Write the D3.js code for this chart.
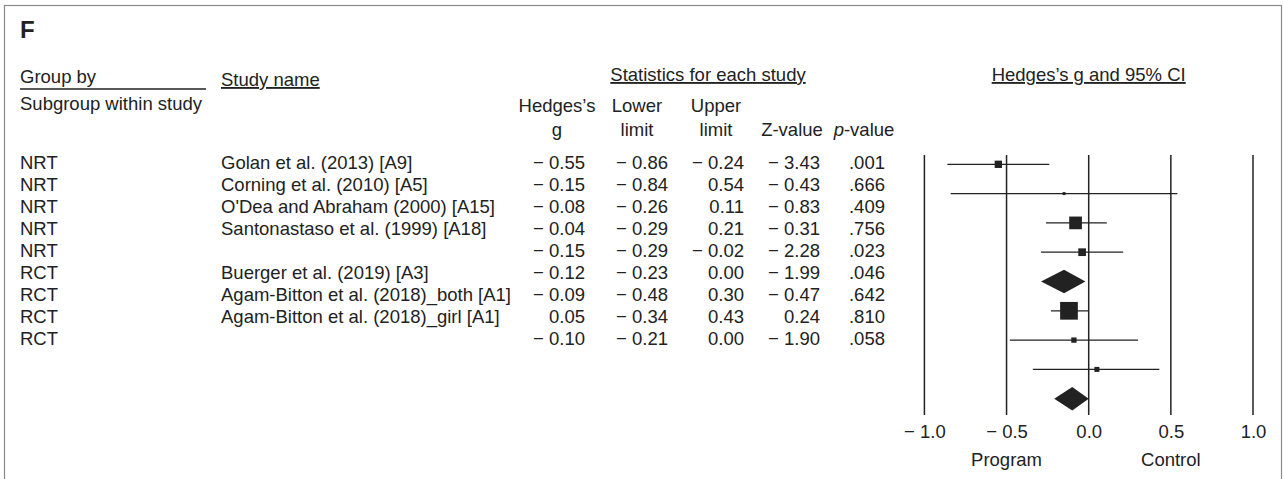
<!DOCTYPE html>
<html>
<head>
<meta charset="utf-8">
<script src="https://cdn.jsdelivr.net/npm/d3@7/dist/d3.min.js"></script>
<style>
  html, body { margin: 0; padding: 0; background: #fff; }
  svg { display: block; }
  text { font-family: "Liberation Sans", Arial, "DejaVu Sans", sans-serif; fill: #222; }
</style>
</head>
<body>
<svg id="chart" width="1283" height="479"></svg>
<script>
// Subgroup meta-analysis: effect sizes (Hedges's g) by design type
const groups   = ["NRT", "NRT", "NRT", "NRT", "NRT", "RCT", "RCT", "RCT", "RCT"];
const studies  = [
  "Golan et al. (2013) [A9]",
  "Corning et al. (2010) [A5]",
  "O'Dea and Abraham (2000) [A15]",
  "Santonastaso et al. (1999) [A18]",
  "",
  "Buerger et al. (2019) [A3]",
  "Agam-Bitton et al. (2018)_both [A1]",
  "Agam-Bitton et al. (2018)_girl [A1]",
  ""
];
const hedgesG  = [-0.55, -0.15, -0.08, -0.04, -0.15, -0.12, -0.09, 0.05, -0.10];
const lowerLim = [-0.86, -0.84, -0.26, -0.29, -0.29, -0.23, -0.48, -0.34, -0.21];
const upperLim = [-0.24,  0.54,  0.11,  0.21, -0.02,  0.00,  0.30, 0.43,  0.00];
const zValues  = [-3.43, -0.43, -0.83, -0.31, -2.28, -1.99, -0.47, 0.24, -1.90];
const pValues  = [".001", ".666", ".409", ".756", ".023", ".046", ".642", ".810", ".058"];
const isPooled = [false, false, false, false, true, false, false, false, true];
// relative study weights within each subgroup (pooled rows have none)
const weights  = [14.5, 2.4, 43.7, 16, null, 85, 7.6, 6.8, null];
const axisTicks = [-1.0, -0.5, 0.0, 0.5, 1.0];
const sideLabels = [{ text: "Program", at: -0.5 }, { text: "Control", at: 0.5 }];

const svg = d3.select("#chart");
const FS = 18.5;
const ink = "#222";

const fmt = v => (v < 0 ? "\u2212 " : "") + Math.abs(v).toFixed(2);
const rows = d3.range(groups.length);

// outer frame
svg.append("rect")
  .attr("x", 4.5).attr("y", 5.5)
  .attr("width", 1277).attr("height", 500)
  .attr("fill", "none").attr("stroke", "#8a8a8a").attr("stroke-width", 1.2);

// panel letter
svg.append("text").attr("x", 20).attr("y", 38)
  .attr("font-size", 24).attr("font-weight", "bold").text("F");

// column headers
const head = svg.append("g").attr("font-size", FS);
head.append("text").attr("x", 20).attr("y", 83).text("Group by");
head.append("line").attr("x1", 20).attr("x2", 206).attr("y1", 89).attr("y2", 89)
  .attr("stroke", ink).attr("stroke-width", 1.3);
head.append("text").attr("x", 20).attr("y", 110).text("Subgroup within study");
head.append("text").attr("x", 221).attr("y", 86).attr("text-decoration", "underline").text("Study name");
head.append("text").attr("x", 708).attr("y", 81).attr("text-anchor", "middle")
  .attr("text-decoration", "underline").text("Statistics for each study");

const colRight = { g: 585, lo: 668, hi: 744, z: 820, p: 885 };
const subHead = [
  { x: 557, l1: "Hedges\u2019s", l2: "g" },
  { x: 637, l1: "Lower", l2: "limit" },
  { x: 716, l1: "Upper", l2: "limit" },
  { x: 792, l1: "", l2: "Z-value" }
];
subHead.forEach(h => {
  if (h.l1) head.append("text").attr("x", h.x).attr("y", 112).attr("text-anchor", "middle").text(h.l1);
  head.append("text").attr("x", h.x).attr("y", 136).attr("text-anchor", "middle").text(h.l2);
});
const pHead = head.append("text").attr("x", 864).attr("y", 136).attr("text-anchor", "middle");
pHead.append("tspan").attr("font-style", "italic").text("p");
pHead.append("tspan").text("-value");

// table rows
const yText = d3.scalePoint().domain(rows).range([168.5, 344.5]);
const table = svg.append("g").attr("font-size", FS);
const rowG = table.selectAll("g.row").data(rows).join("g")
  .attr("class", "row")
  .attr("transform", i => `translate(0,${yText(i)})`);
rowG.append("text").attr("x", 20).text(i => groups[i]);
rowG.append("text").attr("x", 221).text(i => studies[i]);
rowG.append("text").attr("x", colRight.g).attr("text-anchor", "end").text(i => fmt(hedgesG[i]));
rowG.append("text").attr("x", colRight.lo).attr("text-anchor", "end").text(i => fmt(lowerLim[i]));
rowG.append("text").attr("x", colRight.hi).attr("text-anchor", "end").text(i => fmt(upperLim[i]));
rowG.append("text").attr("x", colRight.z).attr("text-anchor", "end").text(i => fmt(zValues[i]));
rowG.append("text").attr("x", colRight.p).attr("text-anchor", "end").text(i => pValues[i]);

// forest plot
const x = d3.scaleLinear().domain([-1, 1]).range([924.4, 1253]);
const yPlot = d3.scalePoint().domain(rows).range([164.3, 398.7]);
const plotTop = 155, plotBottom = 415;

svg.append("text").attr("x", x(0)).attr("y", 81).attr("font-size", FS)
  .attr("text-anchor", "middle").attr("text-decoration", "underline")
  .text("Hedges\u2019s g and 95% CI");

const plot = svg.append("g");
plot.selectAll("line.grid").data(axisTicks).join("line")
  .attr("class", "grid")
  .attr("x1", d => x(d)).attr("x2", d => x(d))
  .attr("y1", plotTop).attr("y2", plotBottom)
  .attr("stroke", ink).attr("stroke-width", 1.5);

const sizeScale = d3.scaleSqrt().domain([0, 85]).range([0, 17.7]);
const studyRows = rows.filter(i => !isPooled[i]);
const pooledRows = rows.filter(i => isPooled[i]);

plot.selectAll("line.ci").data(studyRows).join("line")
  .attr("class", "ci")
  .attr("x1", i => x(lowerLim[i])).attr("x2", i => x(upperLim[i]))
  .attr("y1", i => yPlot(i)).attr("y2", i => yPlot(i))
  .attr("stroke", ink).attr("stroke-width", 1.3);

plot.selectAll("rect.pt").data(studyRows).join("rect")
  .attr("class", "pt")
  .attr("x", i => x(hedgesG[i]) - sizeScale(weights[i]) / 2)
  .attr("y", i => yPlot(i) - sizeScale(weights[i]) / 2)
  .attr("width", i => sizeScale(weights[i]))
  .attr("height", i => sizeScale(weights[i]))
  .attr("fill", ink);

const halfH = 11.7;
plot.selectAll("path.pooled").data(pooledRows).join("path")
  .attr("class", "pooled")
  .attr("d", i => {
    const y = yPlot(i);
    return `M${x(lowerLim[i])},${y}L${x(hedgesG[i])},${y - halfH}L${x(upperLim[i])},${y}L${x(hedgesG[i])},${y + halfH}Z`;
  })
  .attr("fill", ink);

// tick labels
const axis = d3.axisBottom(x)
  .tickValues(axisTicks)
  .tickSize(0)
  .tickPadding(0)
  .tickFormat(d => d === 0 ? "0.0" : (d < 0 ? "\u2212 " : "") + Math.abs(d).toFixed(1));
const axG = svg.append("g").attr("transform", "translate(0,425)").call(axis);
axG.select(".domain").remove();
axG.selectAll("text")
  .attr("font-size", FS).attr("fill", ink)
  .attr("font-family", "'Liberation Sans', Arial, sans-serif");

svg.selectAll("text.side").data(sideLabels).join("text")
  .attr("class", "side")
  .attr("x", d => x(d.at)).attr("y", 466)
  .attr("font-size", FS).attr("text-anchor", "middle")
  .text(d => d.text);
</script>
</body>
</html>
